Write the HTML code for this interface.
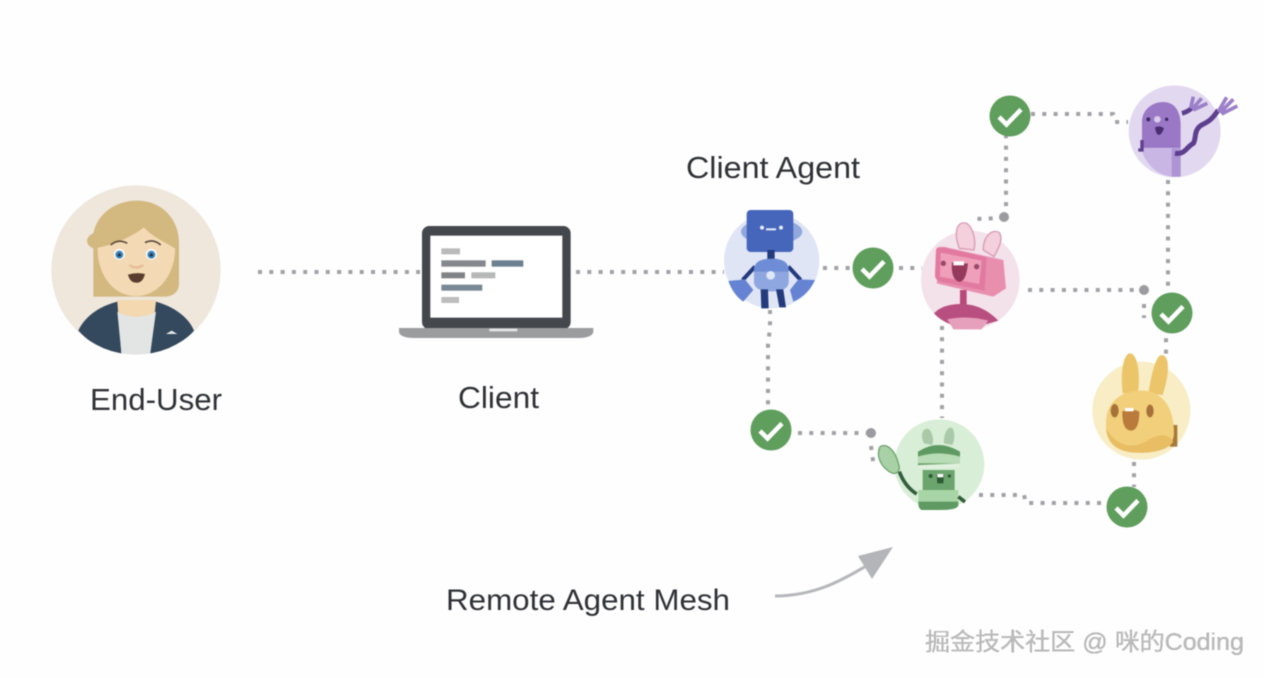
<!DOCTYPE html>
<html><head><meta charset="utf-8"><style>
html,body{margin:0;padding:0;background:#fefefe}
svg{display:block;filter:blur(.6px)}
text{font-family:"Liberation Sans","Noto Sans CJK SC",sans-serif;fill:#2f3235}
.d{fill:none;stroke:#a2a2a6;stroke-width:4;stroke-dasharray:4 7.3}
</style></head><body>
<svg width="1264" height="678" viewBox="0 0 1264 678" xmlns="http://www.w3.org/2000/svg">
<rect width="1264" height="678" fill="#fefefe"/>
<defs>
<clipPath id="c1"><circle cx="318" cy="300" r="254"/></clipPath>
<g id="chk"><circle r="20.500" fill="#5f9e5d"/><path d="M-11 1L-3.500 8.500L11-6.500" fill="none" stroke="#fff" stroke-width="4.500"/></g>
</defs>

<!-- connectors -->
<path class="d" d="M258 272H420M576 272H724"/>
<path class="d" d="M823 268H853M899 268H922"/>
<path class="d" d="M1006 123V216M1004 218L973 219"/>
<path class="d" d="M1031 114H1113L1115 122H1128"/>
<path class="d" d="M1168 180V290M1166 327V357"/>
<path class="d" d="M1028 290H1143M1144 304V318"/>
<path class="d" d="M770 310V328L768 345V409"/>
<path class="d" d="M798 433H868M871 446L874 468"/>
<path class="d" d="M942 326V418"/>
<path class="d" d="M979 495H1024L1026 503H1108"/>
<path class="d" d="M1134 462V487"/>
<circle cx="1004" cy="217" r="5" fill="#9c9ca0"/>
<circle cx="1144" cy="290" r="5" fill="#9c9ca0"/>
<circle cx="871" cy="433" r="5" fill="#9c9ca0"/>

<!-- checks -->
<use href="#chk" x="1010" y="116"/>
<use href="#chk" x="873" y="268"/>
<use href="#chk" x="1172" y="313"/>
<use href="#chk" x="771" y="430"/>
<use href="#chk" x="1127" y="507"/>

<!-- end user -->
<g transform="translate(30,170) scale(.3333)">
<circle cx="318" cy="300" r="254" fill="#efe6dc"/>
<g clip-path="url(#c1)">
<path d="M190 380V235C165 225 165 200 190 190C205 120 270 90 325 92C400 95 447 150 447 220V340C447 365 430 380 400 380Z" fill="#d3b87f"/>
<path d="M262 390H378V480H262Z" fill="#f3d8b0"/>
<path d="M145 482C165 440 205 410 262 395L275 560C220 545 175 515 145 482ZM378 395C430 410 475 440 492 482C460 520 410 545 360 555Z" fill="#34495e"/>
<path d="M262 425C290 445 350 445 378 425L360 556H275Z" fill="#e3e4e4"/>
<path d="M203 230C240 225 295 205 340 170C360 195 400 215 435 235C437 300 395 378 318 378C240 378 200 300 203 230Z" fill="#f4dab4"/>
<path d="M195 235C250 225 310 200 350 165L320 140L210 170Z" fill="#d3b87f"/>
<path d="M242 225Q265 205 292 220M345 218Q370 205 392 225" fill="none" stroke="#5d4a3a" stroke-width="5"/>
<circle cx="268" cy="253" r="16" fill="#fff"/><circle cx="364" cy="253" r="16" fill="#fff"/>
<circle cx="268" cy="254" r="12" fill="#3f86c0"/><circle cx="364" cy="254" r="12" fill="#3f86c0"/>
<circle cx="268" cy="255" r="5" fill="#234"/><circle cx="364" cy="255" r="5" fill="#234"/>
<path d="M298 285Q318 300 340 285" fill="none" stroke="#e5c09c" stroke-width="8"/>
<path d="M294 314Q320 306 345 312Q338 340 318 338Q300 338 294 314Z" fill="#5a3d2e"/>
<path d="M408 492L425 482L442 492Z" fill="#e8eaec"/>
</g></g>

<!-- laptop -->
<g transform="translate(390,215) scale(.3333)">
<rect x="96" y="33" width="446" height="310" rx="22" fill="#44474c"/>
<rect x="121" y="62" width="396" height="246" fill="#fff"/>
<path d="M27 339H610V350C610 362 590 369 570 369H70C45 369 27 362 27 350Z" fill="#9a9c9e"/>
<rect x="298" y="341" width="84" height="8" fill="#e6e6e6"/>
<rect x="154" y="100" width="56" height="18" fill="#b9bab9"/>
<rect x="154" y="136" width="133" height="19" fill="#84888c"/>
<rect x="305" y="136" width="95" height="19" fill="#6d8090"/>
<rect x="154" y="172" width="71" height="18" fill="#818487"/>
<rect x="244" y="172" width="72" height="18" fill="#b6b8b8"/>
<rect x="154" y="209" width="123" height="18" fill="#788894"/>
<rect x="154" y="246" width="53" height="18" fill="#bdbdbd"/>
</g>

<!-- blue robot -->
<g transform="translate(710,200) scale(.3333)">
<circle cx="185" cy="182" r="143" fill="#dfe5f5"/>
<ellipse cx="185" cy="95" rx="92" ry="38" fill="#92a8dd"/>
<rect x="110" y="30" width="140" height="126" rx="12" fill="#4666bb"/>
<circle cx="156" cy="83" r="6" fill="#e8ecf8"/><circle cx="213" cy="83" r="6" fill="#e8ecf8"/>
<path d="M168 88H198" stroke="#e8ecf8" stroke-width="6"/>
<rect x="172" y="150" width="22" height="30" fill="#233a7c"/>
<path d="M135 200L98 240M235 200L272 240" stroke="#233a7c" stroke-width="12"/>
<path d="M132 210Q132 176 185 176Q236 176 236 210V245Q236 274 185 274Q132 274 132 245Z" fill="#6f8dd6"/>
<path d="M132 215H236V245Q236 274 185 274Q132 274 132 245Z" fill="#a5b9e8" opacity=".6"/>
<circle cx="182" cy="226" r="13" fill="#dfe8f8"/>
<path d="M152 268L154 325H176L174 268ZM198 268L208 322H228L220 268Z" fill="#233a7c"/>
<path d="M55 243L105 238L130 270L100 305Q70 285 55 243ZM315 240L265 238L240 270L250 305Q295 285 315 240Z" fill="#6683d3"/>
</g>

<!-- pink robot -->
<g transform="translate(710,200) scale(.3333)">
<circle cx="781" cy="240" r="148" fill="#f3e2ea"/>
<path d="M748 145C728 90 745 62 770 70C792 85 798 125 792 150Z" fill="#f4d0dc" stroke="#d99ab4" stroke-width="4"/>
<path d="M820 150C820 105 850 85 868 98C882 120 862 150 852 170Z" fill="#f4d0dc" stroke="#d99ab4" stroke-width="4"/>
<path d="M700 140L880 180L888 265L850 290L680 250Z" fill="#e88fae"/>
<path d="M678 150Q680 138 700 142L830 172L824 272L690 245Q675 240 675 225Z" fill="#e27a9f"/>
<path d="M692 158L815 182L808 252L690 230Z" fill="#ef9fb9"/>
<circle cx="700" cy="190" r="8" fill="#974a68"/><circle cx="800" cy="200" r="8" fill="#974a68"/>
<path d="M726 186Q745 192 774 190Q768 250 745 245Q722 235 726 186Z" fill="#953a5c"/>
<path d="M730 184H762V196H730Z" fill="#fff"/>
<rect x="750" y="270" width="20" height="50" fill="#b9497a"/>
<path d="M672 340Q700 310 760 312Q820 315 865 362L830 372H720Q690 360 672 340Z" fill="#b84f80"/>
<path d="M712 358Q770 345 835 362L815 388H730Z" fill="#e6a0bb"/>
</g>

<!-- purple -->
<g transform="translate(980,80) scale(.3333)">
<circle cx="584" cy="154" r="138" fill="#e2d9f0"/>
<path d="M486 195V120C490 85 520 66 550 66C585 66 600 95 602 130V204H486Z" fill="#9a78c6"/>
<path d="M488 205H602V290H575C535 285 505 260 488 220Z" fill="#c9b6e4"/>
<path d="M575 205H602V290H575Z" fill="#ad94d4"/>
<path d="M486 180V210H475" fill="none" stroke="#5e3e8e" stroke-width="10"/>
<circle cx="505" cy="118" r="6" fill="#3c2760"/><circle cx="560" cy="118" r="5" fill="#3c2760"/>
<path d="M525 142Q540 135 552 145Q545 165 535 165Q527 160 525 142Z" fill="#4b2d72"/>
<circle cx="532" cy="118" r="10" fill="#d8cbec"/>
<path d="M606 100Q625 95 640 80" fill="none" stroke="#5e3e8e" stroke-width="14"/>
<path d="M632 85L640 50M636 88L665 55M640 90L682 70" stroke="#9b7fc9" stroke-width="11"/>
<path d="M585 220C615 225 620 200 640 190C650 175 640 150 665 135C685 125 695 120 715 90" fill="none" stroke="#5e3e8e" stroke-width="15"/>
<path d="M715 95L740 52M720 98L760 58M725 102L772 78" stroke="#9b7fc9" stroke-width="11"/>
</g>

<!-- yellow -->
<g transform="translate(1020,280) scale(.3333)">
<circle cx="364" cy="392" r="147" fill="#f8edc5"/>
<path d="M308 340C300 270 312 220 330 220C352 220 362 280 354 340Z" fill="#ecc56a"/>
<path d="M385 340C395 280 408 225 425 225C447 225 452 270 428 345Z" fill="#ecc56a"/>
<path d="M450 435H472V500H450Z" fill="#a87838"/>
<path d="M258 430C258 360 310 332 365 332C425 332 462 380 462 460C462 500 420 520 350 518C290 515 258 490 258 430Z" fill="#f2cf7a"/>
<path d="M258 445C262 490 290 516 350 518C400 520 445 510 460 485C445 460 415 462 385 480C340 510 290 500 258 445Z" fill="#e8bd63"/>
<ellipse cx="284" cy="392" rx="12" ry="20" fill="#a7713a"/><ellipse cx="390" cy="393" rx="11" ry="19" fill="#a7713a"/>
<path d="M307 395Q330 382 358 395Q358 452 332 452Q306 450 307 395Z" fill="#b97a3c"/>
<rect x="315" y="384" width="26" height="10" fill="#fff"/>
</g>

<!-- green -->
<g transform="translate(740,400) scale(.3333)">
<circle cx="598" cy="193" r="135" fill="#d9eed7"/>
<path d="M552 130C538 100 552 80 568 88C582 105 580 125 577 135ZM612 130C610 100 625 75 638 85C647 105 642 125 637 135Z" fill="#a9c9a9"/>
<path d="M534 155Q595 115 660 155V200H534Z" fill="#5f9a63"/>
<path d="M534 170Q595 150 660 170V190H534Z" fill="#b8dcb5"/>
<path d="M532 205L660 203V190L535 195Z" fill="#e0f0dc"/>
<rect x="548" y="210" width="96" height="62" fill="#6ca46e"/>
<circle cx="572" cy="228" r="6" fill="#2e5a34"/><circle cx="628" cy="228" r="5" fill="#2e5a34"/>
<path d="M590 225H612L610 250H592Z" fill="#2e5a34"/><rect x="592" y="222" width="18" height="10" fill="#fff"/>
<path d="M535 270H655V315Q655 330 600 330H545Q535 325 535 310Z" fill="#a8d5a6"/>
<path d="M535 305H655V315Q655 330 600 330H545Q535 325 535 310Z" fill="#5f9a63"/>
<path d="M478 215Q495 260 530 282M655 290L675 306" fill="none" stroke="#345e3c" stroke-width="11"/>
<path d="M420 140C440 128 465 150 475 190C485 218 465 228 445 213C420 195 408 165 420 140Z" fill="#a9d1a6" stroke="#6ca46e" stroke-width="4"/>
</g>

<!-- arrow -->
<path d="M775 596C820 596 850 575 868 565" fill="none" stroke="#b6b7ba" stroke-width="3"/>
<path d="M858 556L893 547L872 579Z" fill="#b4b5b8"/>

<!-- labels -->
<text x="90" y="410" font-size="31" textLength="132" lengthAdjust="spacingAndGlyphs">End-User</text>
<text x="458" y="408" font-size="31" textLength="81" lengthAdjust="spacingAndGlyphs">Client</text>
<text x="686" y="178" font-size="31" textLength="174" lengthAdjust="spacingAndGlyphs">Client Agent</text>
<text x="446" y="610" font-size="30" textLength="284" lengthAdjust="spacingAndGlyphs">Remote Agent Mesh</text>
<text x="925" y="650" font-size="24" textLength="319" lengthAdjust="spacingAndGlyphs" style="fill:#bdbdbd;filter:drop-shadow(.7px .7px .2px #222)">掘金技术社区 @ 咪的Coding</text>
</svg>
</body></html>
